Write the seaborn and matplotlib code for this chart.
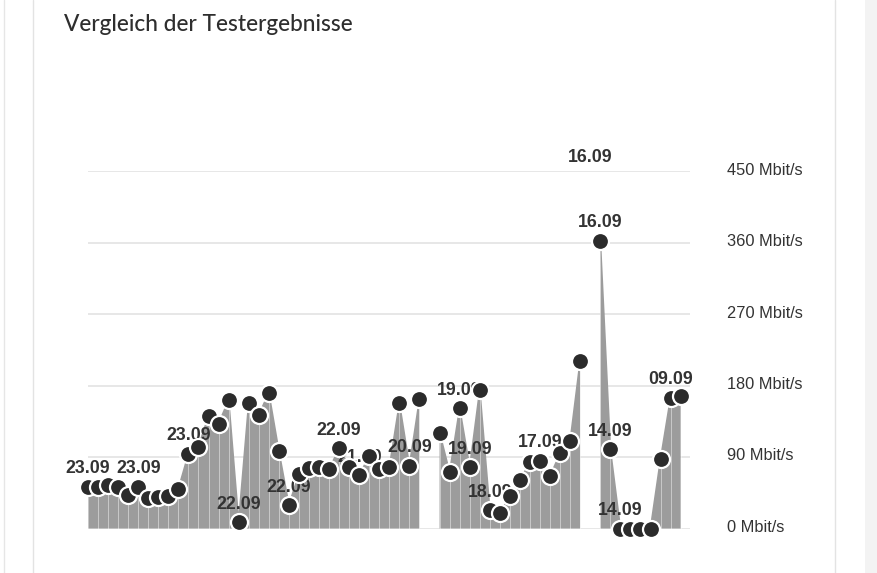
import numpy as np
import pandas as pd
import matplotlib
matplotlib.use("Agg")
import matplotlib.pyplot as plt
import matplotlib.transforms as mtransforms
from matplotlib.lines import Line2D
from matplotlib.patches import Rectangle
import seaborn as sns

# ---------------- data ----------------
nan = np.nan
speeds = [52.5, 52, 54.7, 52, 42, 52.5, 38, 40, 41, 50,
          94, 103, 142, 132, 162, 8, 158.5, 143, 171, 97.5,
          29.4, 68.6, 75.8, 77, 74.5, 101, 77.8, 67.3, 91.3, 74.5,
          77, 157.8, 79, 163, nan, 121, 70.7, 151.5, 77, 174.6,
          23, 19, 41, 61, 83.3, 85.3, 66, 94.7, 110, 211.6,
          nan, 363, 99.7, 0, 0, 0, 0, 87.5, 165, 167.4]

label_idx = [0, 5, 10, 15, 20, 25, 27, 32, 37, 38, 40, 45, 51, 52, 53, 58]
label_txt = ["23.09", "23.09", "23.09", "22.09", "22.09", "22.09", "21.09",
             "20.09", "19.09", "19.09", "18.09", "17.09", "16.09", "14.09",
             "14.09", "09.09"]
# label of the off-scale measurement, shown at the top edge
top_label_idx = 50
top_label_txt = "16.09"

y_ticks = [0, 90, 180, 270, 360, 450]
y_tick_labels = [f"{t} Mbit/s" for t in y_ticks]
title = "Vergleich der Testergebnisse"

df = pd.DataFrame({"i": np.arange(len(speeds)), "speed": speeds})

# ---------------- figure ----------------
sns.set_theme(style="white")
plt.rcParams["font.family"] = ["Liberation Sans", "DejaVu Sans"]

W, H = 878, 573
fig = plt.figure(figsize=(W / 100, H / 100), dpi=100)
fig.patch.set_facecolor("white")

# card decoration
def vline_px(x, color):
    fig.add_artist(Line2D([x / W, x / W], [0, 1], transform=fig.transFigure,
                          color=color, lw=1.0, zorder=0))
vline_px(3.5, "#e6e6e6")
vline_px(33.5, "#e3e3e3")
vline_px(835.5, "#e3e3e3")
fig.add_artist(Rectangle((865 / W, 0), 13 / W, 1, transform=fig.transFigure,
                         facecolor="#f3f3f3", edgecolor="none", zorder=0))

fig.text(64 / W, 1 - 24.5 / H, title, family=["Lato", "DejaVu Sans"],
         fontsize=16.3, fontweight="medium", color="#2e2e2e",
         va="center", ha="left")

ax = fig.add_axes([88 / W, (H - 528.5) / H, 602 / W, 357 / H])
ax.set_facecolor("none")

x = df["i"].to_numpy()
y = df["speed"].to_numpy(dtype=float)

ax.fill_between(x, 0, y, color="#9c9c9c", lw=0, zorder=2)
ax.plot(x, y, color="#9c9c9c", lw=1.2, zorder=2.5)
ok = ~np.isnan(y)
ax.vlines(x[ok], 0, y[ok], color="white", lw=0.7, alpha=0.45, zorder=3)

sns.scatterplot(data=df, x="i", y="speed", ax=ax, s=150, color="#2b2b2b",
                edgecolor="white", linewidth=1.6, zorder=6, clip_on=False,
                legend=False)

for i, t in zip(label_idx, label_txt):
    ax.annotate(t, (i, speeds[i]), xytext=(0, 13), textcoords="offset points",
                ha="center", va="center", fontsize=12.8, fontweight="bold",
                color="#333333", zorder=5, annotation_clip=False)
ax.annotate(top_label_txt, (top_label_idx, 450), xytext=(0, 10),
            textcoords="offset points", ha="center", va="center",
            fontsize=12.8, fontweight="bold", color="#333333", zorder=5,
            annotation_clip=False)

ax.set_xlim(0, 59.93)
ax.set_ylim(0, 450)
ax.set_xticks([])
ax.set_yticks(y_ticks)
ax.set_yticklabels(y_tick_labels)
ax.yaxis.tick_right()
ax.tick_params(axis="y", length=0, pad=26.6, labelsize=11.8, labelcolor="#333333")
offset = mtransforms.ScaledTranslation(0, 2.6 / 100, fig.dpi_scale_trans)
for lab in ax.get_yticklabels():
    lab.set_transform(lab.get_transform() + offset)
ax.grid(axis="y", color="#e3e3e3", lw=1.2, zorder=0)
ax.set_axisbelow(True)
ax.set_xlabel("")
ax.set_ylabel("")
for s in ax.spines.values():
    s.set_visible(False)

fig.savefig("out.png", dpi=100)
